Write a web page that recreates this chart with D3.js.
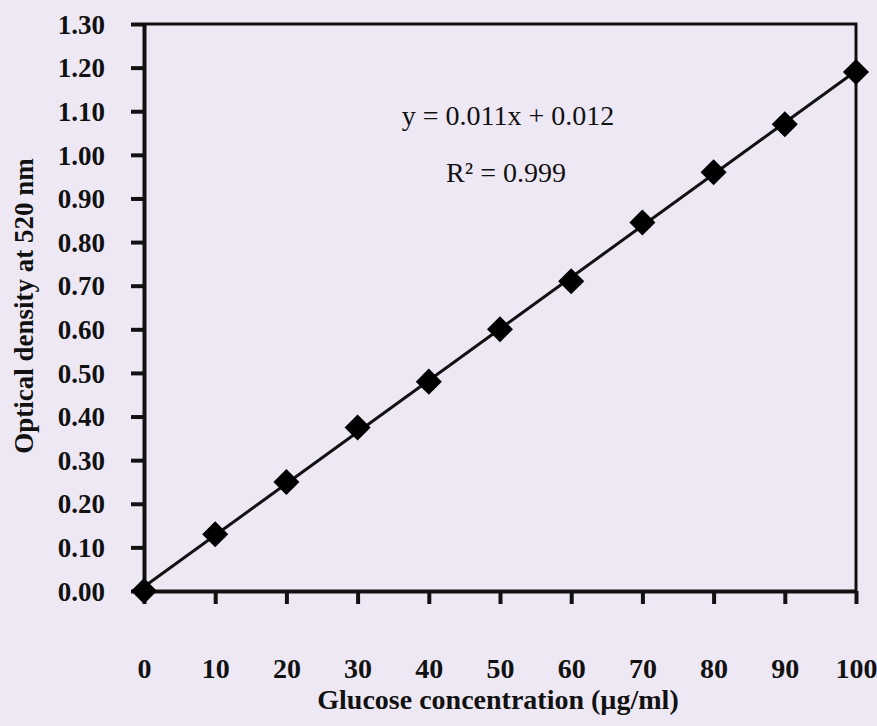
<!DOCTYPE html>
<html>
<head>
<meta charset="utf-8">
<script src="https://cdn.jsdelivr.net/npm/d3@7"></script>
<style>
  html, body { margin: 0; padding: 0; background: #eee8f5; }
  svg { display: block; }
  text { font-family: "Liberation Serif", "Times New Roman", serif; fill: #111; }
</style>
</head>
<body>
<svg id="chart" width="877" height="726"></svg>
<script>
// ---- data ----
const concentrations = [0, 10, 20, 30, 40, 50, 60, 70, 80, 90, 100];
const opticalDensity = [0.000, 0.130, 0.250, 0.375, 0.480, 0.600, 0.710, 0.845, 0.960, 1.070, 1.190];
const xTicks = [0, 10, 20, 30, 40, 50, 60, 70, 80, 90, 100];
const yTicks = [0.0, 0.1, 0.2, 0.3, 0.4, 0.5, 0.6, 0.7, 0.8, 0.9, 1.0, 1.1, 1.2, 1.3];
const xTitle = "Glucose concentration (µg/ml)";
const yTitle = "Optical density at 520 nm";
const equationText = "y = 0.011x + 0.012";
const r2Text = "R² = 0.999";

// ---- layout ----
const W = 877, H = 726;
const plot = { left: 144, right: 856, top: 24, bottom: 591 };
const FONT = "'Liberation Serif', 'Times New Roman', serif";
const svg = d3.select("#chart");

const x = d3.scaleLinear().domain([0, 100]).range([plot.left, plot.right]);
const y = d3.scaleLinear().domain([0, 1.3]).range([plot.bottom, plot.top]);

svg.append("rect").attr("x", 0).attr("y", 0).attr("width", W).attr("height", H).attr("fill", "#eee8f5");

// top & right border
svg.append("path")
  .attr("d", `M${plot.left},${plot.top}H${plot.right}V${plot.bottom}`)
  .attr("fill", "none").attr("stroke", "#111").attr("stroke-width", 3);

// y axis
const yAxis = svg.append("g")
  .attr("transform", `translate(${plot.left},0)`)
  .call(d3.axisLeft(y).tickValues(yTicks).tickFormat(d3.format(".2f")).tickSize(13).tickSizeOuter(0).tickPadding(26));
yAxis.select(".domain").attr("stroke", "#111").attr("stroke-width", 4);
yAxis.selectAll(".tick line").attr("stroke", "#111").attr("stroke-width", 4);
yAxis.selectAll(".tick text")
  .attr("font-size", 27).attr("font-weight", "bold")
  .attr("font-family", FONT)
  .attr("fill", "#111").attr("dy", "0.34em");

// x axis
const xAxis = svg.append("g")
  .attr("transform", `translate(0,${plot.bottom})`)
  .call(d3.axisBottom(x).tickValues(xTicks).tickFormat(d3.format("d")).tickSize(13).tickSizeOuter(0));
xAxis.select(".domain").attr("stroke", "#111").attr("stroke-width", 4);
xAxis.selectAll(".tick line").attr("stroke", "#111").attr("stroke-width", 4);
xAxis.selectAll(".tick text")
  .attr("font-size", 28).attr("font-weight", "bold")
  .attr("font-family", FONT)
  .attr("fill", "#111").attr("y", 87).attr("dy", 0);

// linear trendline (least squares from the data)
const n = concentrations.length;
const mx = d3.mean(concentrations), my = d3.mean(opticalDensity);
const sxy = d3.sum(concentrations, (c, i) => (c - mx) * (opticalDensity[i] - my));
const sxx = d3.sum(concentrations, c => (c - mx) * (c - mx));
const slope = sxy / sxx, intercept = my - slope * mx;
const xExt = d3.extent(concentrations);
svg.append("path")
  .datum(xExt.map(c => [c, intercept + slope * c]))
  .attr("fill", "none").attr("stroke", "#111").attr("stroke-width", 3)
  .attr("d", d3.line().x(d => x(d[0])).y(d => y(d[1])));

// markers (diamonds)
const pts = concentrations.map((c, i) => [c, opticalDensity[i]]);
const diamond = d3.symbol().type(d3.symbolSquare).size(340);
svg.append("g").selectAll("path")
  .data(pts)
  .join("path")
  .attr("d", diamond)
  .attr("transform", d => `translate(${x(d[0])},${y(d[1])}) rotate(45)`)
  .attr("fill", "#000");

// equation text
svg.append("text").attr("x", 508).attr("y", 125).attr("text-anchor", "middle")
  .attr("font-size", 28).text(equationText);
svg.append("text").attr("x", 506).attr("y", 182).attr("text-anchor", "middle")
  .attr("font-size", 28).text(r2Text);

// axis titles
svg.append("text").attr("x", 498).attr("y", 709).attr("text-anchor", "middle")
  .attr("font-size", 28).attr("font-weight", "bold").text(xTitle);
svg.append("text")
  .attr("transform", `translate(33,306) rotate(-90)`)
  .attr("text-anchor", "middle")
  .attr("font-size", 27).attr("font-weight", "bold").text(yTitle);
</script>
</body>
</html>
